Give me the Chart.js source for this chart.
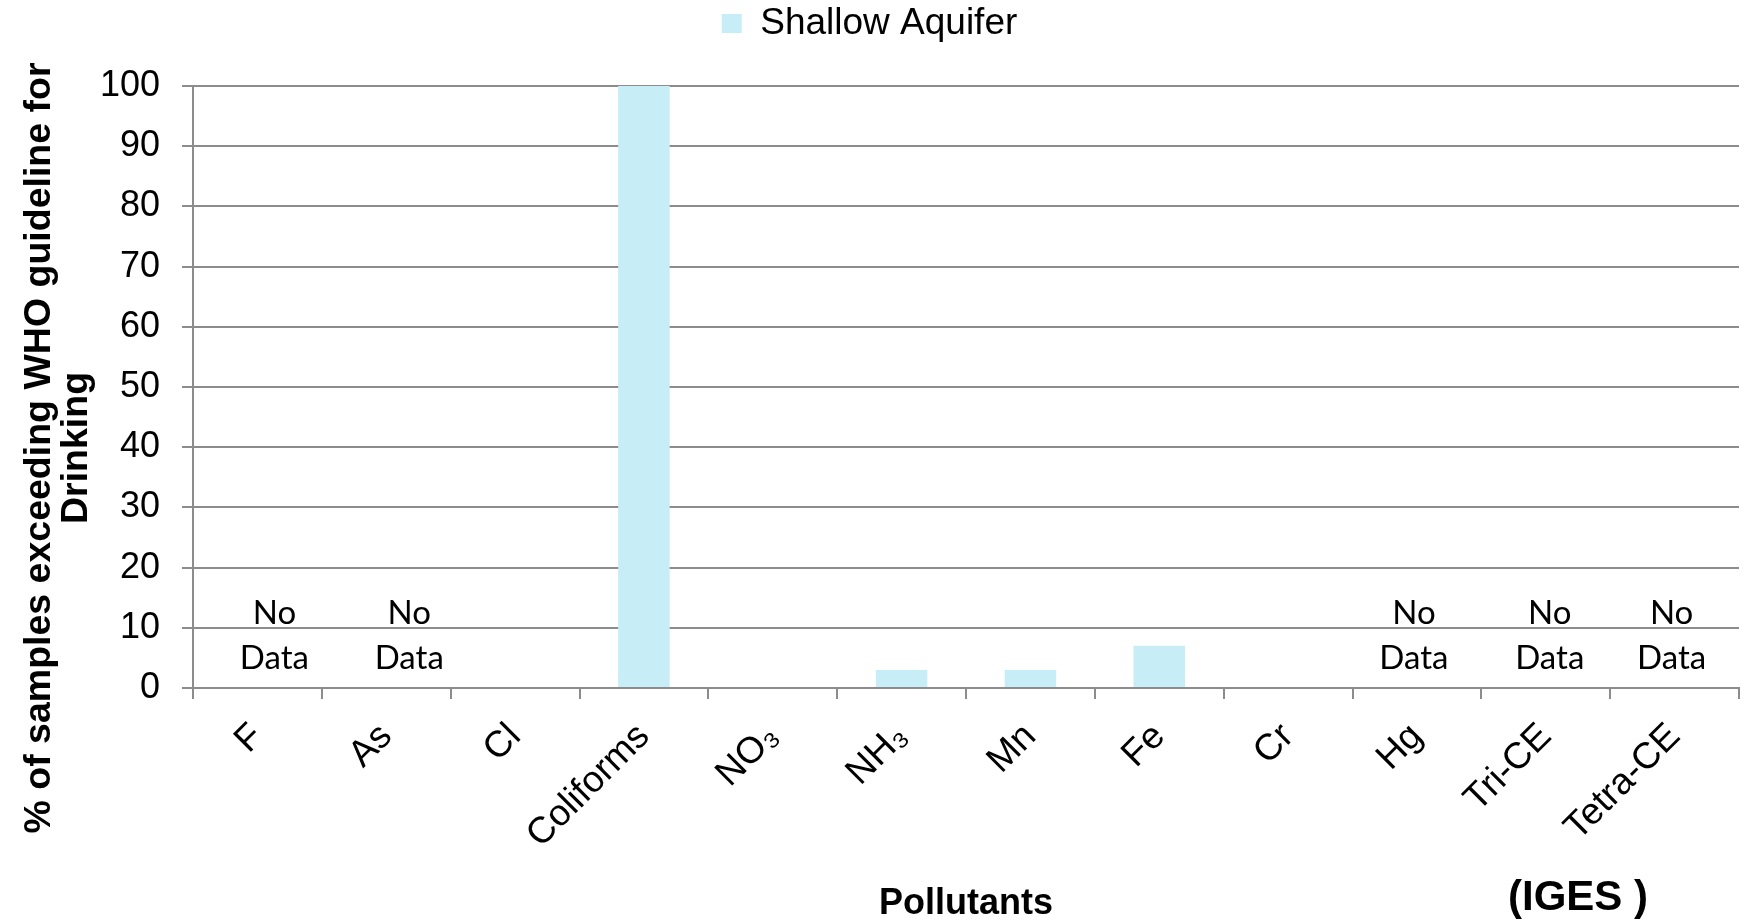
<!DOCTYPE html>
<html>
<head>
<meta charset="utf-8">
<script src="https://cdn.jsdelivr.net/npm/chart.js@4/dist/chart.umd.min.js"></script>
<style>
  html, body { margin: 0; padding: 0; background: #fff; }
  #wrap { width: 1750px; height: 922px; }
</style>
</head>
<body>
<div id="wrap"><canvas id="aquiferChart" width="1750" height="922"></canvas></div>
<script>
// Pollutants on the x axis
const pollutants = ['F', 'As', 'Cl', 'Coliforms', 'NO\u2083', 'NH\u2083', 'Mn', 'Fe', 'Cr', 'Hg', 'Tri-CE', 'Tetra-CE'];
// % of samples exceeding the WHO guideline (null = no data)
const shallowAquifer = [null, null, 0, 100, 0, 3, 3, 7, 0, null, null, null];
const yTicks = [0, 10, 20, 30, 40, 50, 60, 70, 80, 90, 100];

const gridGray = '#8c8c8c';
const barColor = '#c7edf7';
const sans = "'Liberation Sans', Arial, sans-serif";

// keep the legend at the very top but leave room under it
const legendGap = {
    id: 'legendGap',
    afterInit(chart) {
        if (!chart.legend) return;
        const fit = chart.legend.fit;
        chart.legend.fit = function () {
            fit.call(this);
            this.height += 34;
        };
    }
};

// "No Data" notes, the y title and the source tag
const notesPlugin = {
    id: 'notes',
    afterDatasetsDraw(chart) {
        const ctx = chart.ctx;
        const x = chart.scales.x;
        const y = chart.scales.y;
        const base = y.getPixelForValue(0);
        // the two leftmost notes sit a little to the right in the original
        const nudge = { 'F': 17, 'As': 23, 'Hg': -3, 'Tri-CE': 4, 'Tetra-CE': -3 };
        ctx.save();
        ctx.fillStyle = '#000';
        ctx.font = "33px Lato, 'Open Sans', sans-serif";
        ctx.textAlign = 'center';
        ctx.textBaseline = 'middle';
        shallowAquifer.forEach((v, i) => {
            if (v !== null) return;
            const cx = x.getPixelForValue(i) + (nudge[pollutants[i]] || 0);
            ctx.fillText('No', cx, base - 75);
            ctx.fillText('Data', cx, base - 30);
        });
        ctx.restore();
    },
    afterDraw(chart) {
        const ctx = chart.ctx;
        ctx.save();
        ctx.fillStyle = '#000';
        // y axis title, two lines
        ctx.font = 'bold 37.5px ' + sans;
        ctx.textAlign = 'center';
        ctx.textBaseline = 'middle';
        ctx.translate(40, 448);
        ctx.rotate(-Math.PI / 2);
        ctx.fillText('% of samples exceeding WHO guideline for', 0, 0);
        ctx.fillText('Drinking', 0, 37);
        ctx.restore();

        ctx.save();
        ctx.fillStyle = '#000';
        ctx.font = 'bold 42px ' + sans;
        ctx.textAlign = 'center';
        ctx.textBaseline = 'middle';
        ctx.fillText('(IGES )', 1578, 898);
        ctx.restore();
    }
};

new Chart(document.getElementById('aquiferChart'), {
    type: 'bar',
    data: {
        labels: pollutants,
        datasets: [{
            label: 'Shallow Aquifer',
            data: shallowAquifer,
            backgroundColor: barColor,
            borderWidth: 0,
            barPercentage: 0.4,
            categoryPercentage: 1
        }]
    },
    options: {
        responsive: false,
        animation: false,
        devicePixelRatio: 1,
        layout: { padding: { top: 0, right: 11, left: 0, bottom: 0 } },
        plugins: {
            legend: {
                position: 'top',
                labels: {
                    color: '#000',
                    font: { family: sans, size: 37 },
                    boxWidth: 20,
                    boxHeight: 19,
                    padding: 5
                }
            },
            tooltip: { enabled: false }
        },
        scales: {
            x: {
                afterFit: scale => { scale.height = 234; },
                grid: {
                    offset: true,
                    drawOnChartArea: false,
                    drawTicks: true,
                    tickLength: 11,
                    color: gridGray,
                    lineWidth: 2
                },
                border: { display: true, color: gridGray, width: 2 },
                ticks: {
                    color: '#000',
                    font: { family: sans, size: 37 },
                    minRotation: 45,
                    maxRotation: 45,
                    autoSkip: false,
                    padding: 16
                },
                title: {
                    display: true,
                    text: 'Pollutants',
                    color: '#000',
                    font: { family: sans, size: 36, weight: 'bold', lineHeight: 1.0 },
                    padding: 0
                }
            },
            y: {
                min: 0,
                max: 100,
                afterFit: scale => { scale.width = 193; },
                afterBuildTicks: scale => { scale.ticks = yTicks.map(v => ({ value: v })); },
                grid: {
                    color: gridGray,
                    lineWidth: 2,
                    tickLength: 11
                },
                border: { display: true, color: gridGray, width: 2 },
                ticks: {
                    color: '#000',
                    font: { family: sans, size: 36 },
                    padding: 22
                }
            }
        }
    },
    plugins: [legendGap, notesPlugin]
});
</script>
</body>
</html>
